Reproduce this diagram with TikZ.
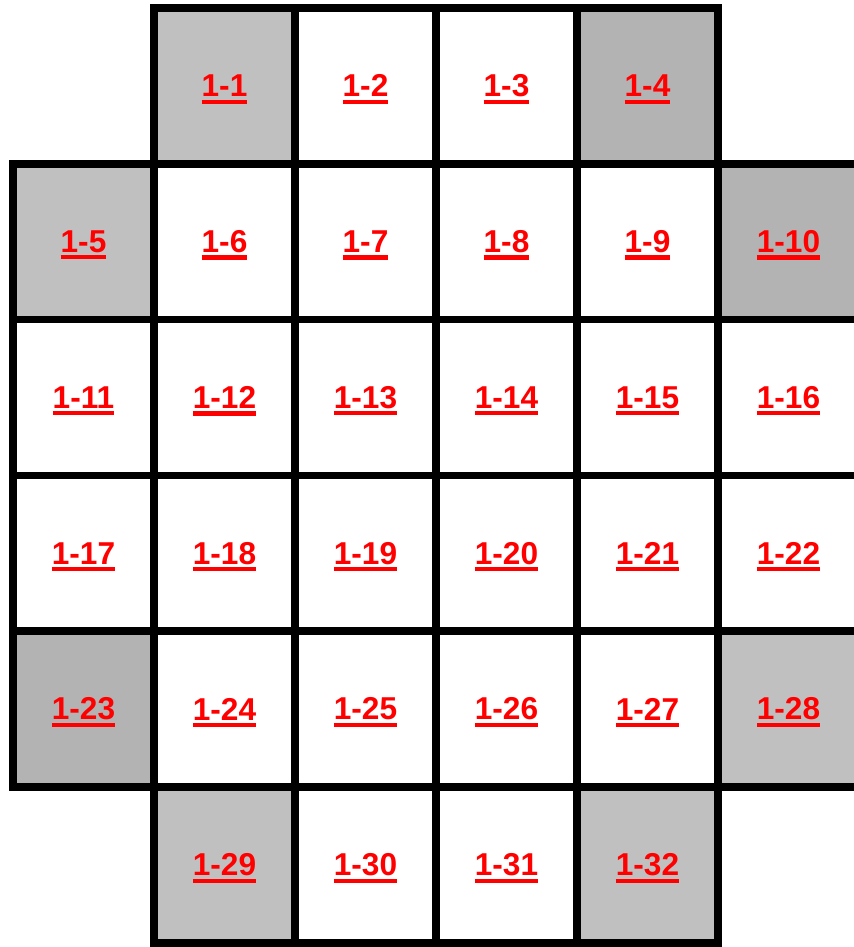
\documentclass[tikz,border=0pt]{standalone}
\usepackage{fontspec}
\setmainfont{Liberation Sans}
\definecolor{lightgrey}{HTML}{C0C0C0}
\definecolor{darkgrey}{HTML}{B3B3B3}
\newcommand{\cellnum}[1]{\setbox0\hbox{#1}\rlap{\smash{\rule[-4pt]{\wd0}{2.4pt}}}\box0}

\begin{document}
\begin{tikzpicture}[x=0.02cm,y=-0.02cm,
    cell/.style={draw=black,line width=4.4pt,fill=white,minimum width=2.82cm,minimum height=3.116cm,
      inner sep=0pt,text=red,font=\bfseries\fontsize{18}{20}\selectfont}]
\useasboundingbox (0,0) rectangle (854,947);
\clip (0,0) rectangle (854,947);
\foreach \c/\r/\n/\f in {1/0/1/lightgrey, 2/0/2/white, 3/0/3/white, 4/0/4/darkgrey,
    0/1/5/lightgrey, 1/1/6/white, 2/1/7/white, 3/1/8/white, 4/1/9/white, 5/1/10/darkgrey,
    0/2/11/white, 1/2/12/white, 2/2/13/white, 3/2/14/white, 4/2/15/white, 5/2/16/white,
    0/3/17/white, 1/3/18/white, 2/3/19/white, 3/3/20/white, 4/3/21/white, 5/3/22/white,
    0/4/23/darkgrey, 1/4/24/white, 2/4/25/white, 3/4/26/white, 4/4/27/white, 5/4/28/lightgrey,
    1/5/29/lightgrey, 2/5/30/white, 3/5/31/white, 4/5/32/lightgrey}
  \node[cell,fill=\f] (cell\n) at ({83.5+141*\c},{85.9+155.8*\r}) {\cellnum{1-\n}};
\end{tikzpicture}
\end{document}
